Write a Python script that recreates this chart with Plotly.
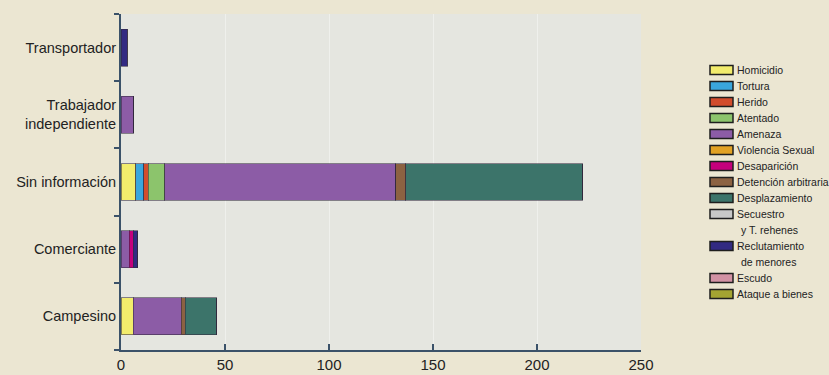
import plotly.graph_objects as go

categories = ["Campesino", "Comerciante", "Sin información",
              "Trabajador<br>independiente", "Transportador"]

series_names = ["Homicidio", "Tortura", "Herido", "Atentado", "Amenaza",
                "Violencia Sexual", "Desaparición", "Detención arbitraria",
                "Desplazamiento", "Secuestro<br>y T. rehenes",
                "Reclutamiento<br>de menores", "Escudo", "Ataque a bienes"]

# values per series, in category order above
homicidio      = [6, 0, 7, 0, 0]
tortura        = [0, 0, 4, 0, 0]
herido         = [0, 0, 2, 0, 0]
atentado       = [0, 0, 8, 0, 0]
amenaza        = [23, 4, 111, 6, 0]
violencia      = [0, 0, 0, 0, 0]
desaparicion   = [0, 2, 0, 0, 0]
detencion      = [2, 0, 5, 0, 0]
desplazamiento = [15, 0, 85, 0, 0]
secuestro      = [0, 0, 0, 0, 0]
reclutamiento  = [0, 2, 0, 0, 3]
escudo         = [0, 0, 0, 0, 0]
ataque         = [0, 0, 0, 0, 0]

series_values = [homicidio, tortura, herido, atentado, amenaza, violencia,
                 desaparicion, detencion, desplazamiento, secuestro,
                 reclutamiento, escudo, ataque]

colors = ["#f2ec6c", "#3aa6dc", "#d24c2c", "#8cc46c", "#8c5ca6", "#e2a224",
          "#c4007c", "#8c6242", "#3c746a", "#c8c8c8", "#322a82", "#d292a4",
          "#a4a432"]

x_ticks = [0, 50, 100, 150, 200, 250]

W, H = 829, 375
ML, MR, MT, MB = 121, 188, 14, 25
PW, PH = W - ML - MR, H - MT - MB

font_family = "Liberation Sans, Arial, sans-serif"
axis_color = "#3b5269"

fig = go.Figure()
for name, vals, col in zip(series_names, series_values, colors):
    fig.add_trace(go.Bar(
        y=categories, x=vals, name=name.replace("<br>", " "), orientation="h",
        marker=dict(color=col, line=dict(color="rgba(50,40,60,0.55)", width=1)),
        width=0.55, showlegend=False,
    ))

# custom legend (built from series_names / colors)
def px_x(px):
    return (px - ML) / PW

def px_y(py):
    return 1 - (py - MT) / PH

shapes = []
annotations = []
line_h = 16
first_y = 70
line_idx = 0
for name, col in zip(series_names, colors):
    lines = name.split("<br>")
    cy = first_y + line_h * line_idx
    shapes.append(dict(
        type="rect", xref="paper", yref="paper",
        x0=px_x(710), x1=px_x(733), y0=px_y(cy + 4.5), y1=px_y(cy - 4.5),
        fillcolor=col, line=dict(color="#1e1e1e", width=1.5), layer="above",
    ))
    for j, ln in enumerate(lines):
        annotations.append(dict(
            xref="paper", yref="paper",
            x=px_x(735 + (4 if j > 0 else 0)), y=px_y(cy + line_h * j),
            text=ln, showarrow=False, xanchor="left", yanchor="middle",
            font=dict(family=font_family, size=10.5, color="#222222"),
        ))
    line_idx += len(lines)

fig.update_layout(
    barmode="stack",
    width=W, height=H,
    margin=dict(l=ML, r=MR, t=MT, b=MB, autoexpand=False),
    paper_bgcolor="#ebe6d2",
    plot_bgcolor="#e5e6e0",
    font=dict(family=font_family, size=14.5, color="#222222"),
    showlegend=False,
    shapes=shapes,
    annotations=annotations,
    xaxis=dict(
        range=[0, 250], tickvals=x_ticks, ticktext=[str(v) for v in x_ticks],
        showgrid=True, gridcolor="rgba(255,255,255,0.4)", gridwidth=1,
        zeroline=False, showline=True, linecolor=axis_color, linewidth=2,
        ticks="inside", ticklen=6, tickcolor=axis_color, tickwidth=2,
        tickfont=dict(size=15, family=font_family, color="#222222"),
        fixedrange=True,
    ),
    yaxis=dict(
        categoryorder="array", categoryarray=categories,
        showline=True, linecolor=axis_color, linewidth=2,
        ticks="outside", tickson="boundaries", ticklen=5,
        tickcolor=axis_color, tickwidth=2, showgrid=False,
        tickfont=dict(size=14.5, family=font_family, color="#222222"),
    ),
)

fig.write_html("out.html")
